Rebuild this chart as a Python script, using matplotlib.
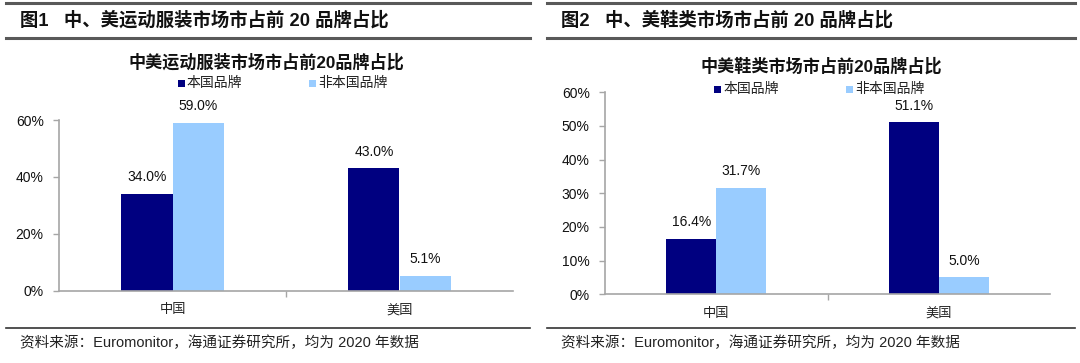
import matplotlib
matplotlib.use("Agg")
import matplotlib.pyplot as plt
from matplotlib.lines import Line2D
from matplotlib.patches import Rectangle

plt.rcParams['font.family'] = ['Noto Sans CJK SC', 'DejaVu Sans']

categories = ["中国", "美国"]
series_names = ["本国品牌", "非本国品牌"]
apparel_domestic = [34.0, 43.0]
apparel_foreign = [59.0, 5.1]
footwear_domestic = [16.4, 51.1]
footwear_foreign = [31.7, 5.0]

panel_titles = ["图1   中、美运动服装市场市占前 20 品牌占比", "图2   中、美鞋类市场市占前 20 品牌占比"]
chart_titles = ["中美运动服装市场市占前20品牌占比", "中美鞋类市场市占前20品牌占比"]
source_text = "资料来源：Euromonitor，海通证券研究所，均为 2020 年数据"
left_ticks = [0, 20, 40, 60]
right_ticks = [0, 10, 20, 30, 40, 50, 60]

DARK = "#000080"
LIGHT = "#99CCFF"
AXC = "#A6A6A6"
LINEC = "#595959"

W, H = 1080, 363
fig = plt.figure(figsize=(W / 100, H / 100), dpi=100)

def fx(px):
    return px / W

def fy(py):
    return 1 - py / H

latin = ['Liberation Sans', 'Noto Sans CJK SC']
mixed = ['Liberation Sans', 'Noto Sans CJK SC']

def panel(x0, x1, ptitle, ctitle, ax_rect, dom, forn, ticks, title_x, title_y, leg_y, leg_x1, leg_x2):
    # header lines
    fig.add_artist(Line2D([fx(x0), fx(x1)], [fy(3), fy(3)], color=LINEC, lw=2.2))
    fig.add_artist(Line2D([fx(x0), fx(x1)], [fy(38), fy(38)], color=LINEC, lw=2.2))
    fig.add_artist(Line2D([fx(x0), fx(x1)], [fy(328), fy(328)], color="#333333", lw=1.2))
    fig.text(fx(x0 + 14), fy(20.5), ptitle, fontsize=13.2, fontweight='bold', va='center', ha='left',
             color="#111111", family=mixed)
    fig.text(fx(x0 + 14), fy(342.5), source_text, fontsize=10.5, va='center', ha='left',
             color="#222222", family=mixed)
    ax = fig.add_axes(ax_rect)
    fig.text(fx(title_x), fy(title_y), ctitle, fontsize=12.3, fontweight='bold',
             ha='center', va='center', color="#111111", family=mixed)
    # legend
    for lx, col, name in [(leg_x1, DARK, series_names[0]), (leg_x2, LIGHT, series_names[1])]:
        fig.add_artist(Rectangle((fx(lx), fy(leg_y + 3.5)), 7 / W, 7 / H, facecolor=col, edgecolor='none'))
        fig.text(fx(lx + 9), fy(leg_y), name, fontsize=10, va='center', ha='left', color="#222222")
    w = 0.225
    xs = list(range(len(categories)))
    b1 = ax.bar([x - w / 2 for x in xs], dom, width=w, color=DARK, edgecolor='none')
    b2 = ax.bar([x + w / 2 for x in xs], forn, width=w, color=LIGHT, edgecolor='none')
    for bars, vals in [(b1, dom), (b2, forn)]:
        for b, v in zip(bars, vals):
            ax.annotate(f"{v:.1f}%", (b.get_x() + b.get_width() / 2, v), xytext=(0, 7),
                        textcoords='offset points', ha='center', va='bottom', fontsize=10,
                        family=latin, color="#111111", annotation_clip=False)
    ax.set_xlim(-0.5, 1.5)
    ax.set_ylim(0, ticks[-1])
    ax.set_yticks(ticks)
    ax.set_yticklabels([f"{t}%" for t in ticks], family=latin, fontsize=10, color="#111111")
    ax.set_xticks([0.5])
    ax.set_xticklabels([""])
    ax.set_xticks(xs, minor=True)
    ax.set_xticklabels(categories, minor=True, fontsize=9.5, color="#222222")
    ax.tick_params(axis='x', which='minor', length=0, pad=9)
    ax.tick_params(axis='x', which='major', length=4, color=AXC, width=1)
    ax.tick_params(axis='y', length=4, color=AXC, width=1, pad=7)
    for s in ['top', 'right']:
        ax.spines[s].set_visible(False)
    for s in ['left', 'bottom']:
        ax.spines[s].set_color(AXC)
        ax.spines[s].set_linewidth(1.2)
    return ax

panel(6, 530, panel_titles[0], chart_titles[0],
      [fx(59), fy(290.7), fx(513 - 59), (290.7 - 120) / H],
      apparel_domestic, apparel_foreign, left_ticks, 266.5, 62, 83, 178, 309)
panel(547, 1075, panel_titles[1], chart_titles[1],
      [fx(605), fy(294.3), fx(1050 - 605), (294.3 - 92.3) / H],
      footwear_domestic, footwear_foreign, right_ticks, 821, 66, 89, 714, 846)

fig.savefig("out.png", dpi=100)
